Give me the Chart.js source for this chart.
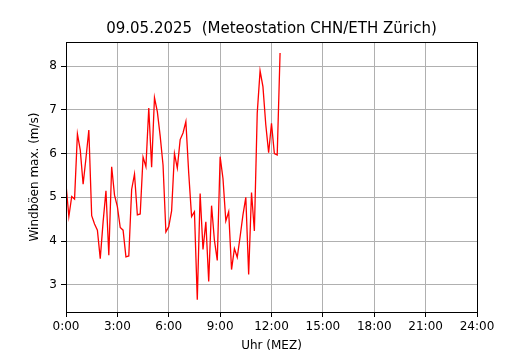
<!DOCTYPE html>
<html>
<head>
<meta charset="utf-8">
<script src="https://cdn.jsdelivr.net/npm/chart.js@4.4.1/dist/chart.umd.min.js"></script>
<style>
  html, body { margin: 0; padding: 0; background: #fff; }
  canvas { display: block; }
</style>
</head>
<body>
<canvas id="chart" width="530" height="350"></canvas>
<script>
// 10-min values, 09.05.2025, Meteostation CHN/ETH Zürich
const times = [
  '0:00','0:10','0:20','0:30','0:40','0:50','1:00','1:10','1:20','1:30','1:40','1:50',
  '2:00','2:10','2:20','2:30','2:40','2:50','3:00','3:10','3:20','3:30','3:40','3:50',
  '4:00','4:10','4:20','4:30','4:40','4:50','5:00','5:10','5:20','5:30','5:40','5:50',
  '6:00','6:10','6:20','6:30','6:40','6:50','7:00','7:10','7:20','7:30','7:40','7:50',
  '8:00','8:10','8:20','8:30','8:40','8:50','9:00','9:10','9:20','9:30','9:40','9:50',
  '10:00','10:10','10:20','10:30','10:40','10:50','11:00','11:10','11:20','11:30','11:40','11:50',
  '12:00','12:10','12:20','12:30'
];
const windGust = [
  5.30, 4.56, 5.02, 4.96, 6.45, 6.08, 5.30, 5.90, 6.54, 4.58, 4.39, 4.25,
  3.60, 4.44, 5.15, 3.68, 5.70, 5.05, 4.79, 4.31, 4.25, 3.64, 3.66, 5.18,
  5.53, 4.60, 4.62, 5.92, 5.70, 7.04, 5.69, 7.28, 6.96, 6.40, 5.74, 4.21,
  4.33, 4.69, 6.00, 5.67, 6.32, 6.47, 6.73, 5.55, 4.56, 4.67, 2.66, 5.09,
  3.81, 4.44, 3.08, 4.81, 4.02, 3.56, 5.93, 5.43, 4.46, 4.67, 3.35, 3.83,
  3.63, 4.10, 4.60, 5.00, 3.24, 5.11, 4.23, 6.92, 7.89, 7.53, 6.66, 6.02,
  6.69, 6.00, 5.97, 8.30
];
const xTicks = [0, 3, 6, 9, 12, 15, 18, 21, 24];
const xTickLabels = ['0:00', '3:00', '6:00', '9:00', '12:00', '15:00', '18:00', '21:00', '24:00'];
const yTicks = [3, 4, 5, 6, 7, 8];

function toHours(t) {
  const [h, m] = t.split(':').map(Number);
  return h + m / 60;
}

const points = times.map((t, i) => ({ x: toHours(t), y: windGust[i] }));

// black box round the plot area, like matplotlib spines
const frame = {
  id: 'frame',
  afterDraw(chart) {
    const { ctx, chartArea: a } = chart;
    ctx.save();
    ctx.strokeStyle = '#000';
    ctx.lineWidth = 1;
    ctx.strokeRect(Math.round(a.left) + 0.5, Math.round(a.top) + 0.5,
      Math.round(a.right - a.left), Math.round(a.bottom - a.top));
    ctx.restore();
  }
};

const font = { family: 'DejaVu Sans', size: 12 };

new Chart(document.getElementById('chart'), {
  type: 'line',
  data: {
    datasets: [{
      data: points,
      borderColor: '#ff0000',
      borderWidth: 1.3,
      pointRadius: 0,
      tension: 0,
      fill: false
    }]
  },
  options: {
    responsive: false,
    animation: false,
    layout: { padding: { left: 0, right: 53, top: 0, bottom: 0 } },
    plugins: {
      legend: { display: false },
      tooltip: { enabled: false },
      title: {
        display: true,
        fullSize: false,
        text: '09.05.2025  (Meteostation CHN/ETH Zürich)',
        color: '#000',
        font: { family: 'DejaVu Sans', size: 15, weight: 'normal' },
        padding: { top: 20, bottom: 4 }
      }
    },
    scales: {
      x: {
        type: 'linear',
        min: 0, max: 24,
        afterBuildTicks: s => { s.ticks = xTicks.map(v => ({ value: v })); },
        afterFit: s => { s.height = 38; },
        ticks: {
          color: '#000', font, padding: 3, maxRotation: 0, autoSkip: false,
          callback: v => xTickLabels[xTicks.indexOf(v)]
        },
        grid: { color: '#b0b0b0', lineWidth: 1, tickColor: '#000', tickLength: 5 },
        border: { display: false },
        title: { display: true, text: 'Uhr (MEZ)', color: '#000', font, padding: { top: 0, bottom: -3 } }
      },
      y: {
        min: 2.38, max: 8.55,
        afterBuildTicks: s => { s.ticks = yTicks.map(v => ({ value: v })); },
        afterFit: s => { s.width = 66; },
        ticks: { color: '#000', font, padding: 4 },
        grid: { color: '#b0b0b0', lineWidth: 1, tickColor: '#000', tickLength: 5 },
        border: { display: false },
        title: { display: true, text: 'Windböen max. (m/s)', color: '#000', font, padding: { top: 28, bottom: 0 } }
      }
    }
  },
  plugins: [frame]
});
</script>
</body>
</html>
